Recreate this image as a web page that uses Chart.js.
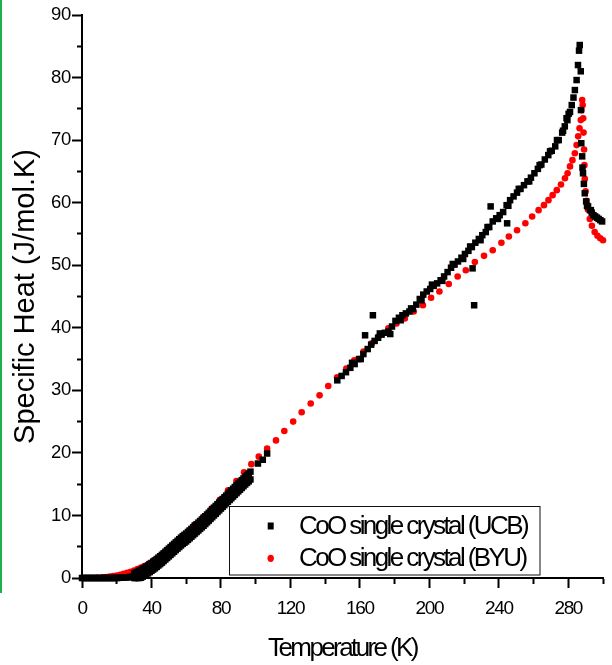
<!DOCTYPE html>
<html>
<head>
<meta charset="utf-8">
<script src="https://cdn.jsdelivr.net/npm/chart.js@4/dist/chart.umd.min.js"></script>
<style>
html,body{margin:0;padding:0;background:#fff;}
#wrap{position:relative;width:612px;height:665px;overflow:hidden;}
#c{position:absolute;left:0;top:0;}
#green{position:absolute;left:0;top:0;width:2px;height:593px;background:#1fb04b;}
</style>
</head>
<body>
<div id="wrap"><canvas id="c" width="612" height="665"></canvas><div id="green"></div></div>
<script>
// ---------- data ----------
const seriesNames = ['CoO single crystal (UCB)', 'CoO single crystal (BYU)'];
const xTitle = 'Temperature (K)';
const yTitle = 'Specific Heat (J/mol.K)';
const xTickLabels = ['0', '40', '80', '120', '160', '200', '240', '280'];
const yTickLabels = ['0', '10', '20', '30', '40', '50', '60', '70', '80', '90'];

// UCB (black squares) - flat low-temperature part
const ucbLowT = [0, 1, 2, 3, 4, 5, 6, 7, 8, 9, 10, 11, 12, 13, 14, 15, 16, 17, 18, 19, 20,
  21, 22, 23, 24, 25, 26, 27, 28, 29];
const ucbLowC = [0, 0, 0, 0, 0, 0, 0, 0, 0, 0, 0, 0, 0, 0, 0, 0, 0, 0, 0, 0, 0,
  0.02, 0.04, 0.05, 0.07, 0.09, 0.11, 0.14, 0.17, 0.2];
// UCB - thick band 30..97 K (upper and lower edge of the measured scatter)
const ucbBandT = [30, 31, 32, 33, 34, 35, 36, 37, 38, 39, 40, 41, 42, 43, 44, 45, 46, 47, 48, 49,
  50, 51, 52, 53, 54, 55, 56, 57, 58, 59, 60, 61, 62, 63, 64, 65, 66, 67, 68, 69, 70, 71, 72, 73,
  74, 75, 76, 77, 78, 79, 80, 81, 82, 83, 84, 85, 86, 87, 88, 89, 90, 91, 92, 93, 94, 95, 96, 97];
const ucbBandUpper = [0.75, 0.87, 1.0, 1.15, 1.3, 1.47, 1.65, 1.82, 2.0, 2.2, 2.4, 2.6, 2.8, 3.02,
  3.25, 3.47, 3.7, 3.95, 4.2, 4.45, 4.7, 4.95, 5.2, 5.45, 5.7, 5.95, 6.2, 6.45, 6.7, 6.9, 7.1, 7.35,
  7.6, 7.85, 8.1, 8.35, 8.6, 8.85, 9.1, 9.35, 9.6, 9.87, 10.15, 10.42, 10.7, 10.97, 11.25, 11.52,
  11.8, 12.07, 12.35, 12.62, 12.9, 13.17, 13.45, 13.72, 14.0, 14.27, 14.55, 14.82, 15.1, 15.37,
  15.65, 15.92, 16.2, 16.45, 16.7, 17.0];
const ucbBandLower = [0, 0, 0, 0, 0.05, 0.22, 0.4, 0.57, 0.75, 0.95, 1.15, 1.35, 1.55, 1.77,
  2.0, 2.22, 2.45, 2.7, 2.95, 3.2, 3.45, 3.7, 3.95, 4.2, 4.45, 4.7, 4.95, 5.2, 5.45, 5.65, 5.85, 6.1,
  6.35, 6.6, 6.85, 7.1, 7.35, 7.6, 7.85, 8.1, 8.35, 8.62, 8.9, 9.17, 9.45, 9.72, 10.0, 10.27,
  10.55, 10.82, 11.1, 11.37, 11.65, 11.92, 12.2, 12.47, 12.75, 13.02, 13.3, 13.57, 13.85, 14.12,
  14.4, 14.67, 14.95, 15.2, 15.45, 15.75];
// UCB - main line above 97 K
const ucbHighT = [101.3, 104.1, 106.6, 147, 149.5, 152, 154.5, 157, 159.5, 162, 164.5,
  166.5, 168.5, 170.5, 172.5, 174.5, 176.5, 178.5, 180.5, 182.5, 184.5, 186.5, 188.5, 190.5,
  192.5, 194.5, 196.5, 198.5, 200.5, 202.5, 204.5, 206.5, 208.5, 210.5, 212.5, 214.5, 216.5,
  218.5, 220.5, 222.5, 224.5, 226.5, 228.5, 230.5, 232.5, 234.5, 236.5, 238.5, 240.5, 242.5,
  244.5, 246.5, 248.5, 250.5, 252.5, 254.5, 256.5, 258.5, 260.5, 262.5, 264.5, 266.5, 268.5,
  270.5, 272.5, 274.5, 276.5, 278, 279.5, 281, 282, 283, 283.8, 284.8, 285.6, 286.2, 286.6,
  287.2, 287.3, 287.5, 288.0, 288.5, 289.0, 289.5, 290.3, 291.4, 292.5, 293.5, 294.5, 295.5,
  296.5, 297.5, 298.5, 299.5];
const ucbHighC = [18.3, 18.9, 19.9, 31.6, 32.3, 32.9, 33.6, 34.2, 35.0, 35.8, 36.6,
  37.3, 37.9, 38.4, 38.9, 39.2, 39.4, 40.2, 41.1, 41.6, 42.0, 42.3, 42.6, 43.0,
  43.7, 44.6, 45.3, 45.8, 46.2, 46.7, 47.1, 47.6, 48.2, 48.9, 49.6, 50.1, 50.6,
  51.2, 51.8, 52.3, 52.9, 53.6, 54.2, 54.8, 55.3, 56.1, 57.0, 57.5, 58.0, 58.5,
  59.6, 60.4, 61.0, 61.6, 62.2, 62.8, 63.4, 64.0, 64.7, 65.4, 66.1, 66.9, 67.6,
  68.3, 69.0, 70.0, 71.2, 72.2, 73.2, 74.5, 75.6, 76.8, 78.0, 79.6, 82.0, 84.3, 85.2,
  81.0, 74.8, 69.5, 67.4, 64.7, 63.0, 61.5, 60.2, 59.4, 58.8, 58.4, 58.0, 57.8,
  57.6, 57.4, 57.2, 57.0];
// UCB - scatter around the main line
const ucbScatterT = [155.5, 160.5, 171.5, 177.5, 183.5, 189.5, 195.5, 201.5, 207.5, 213.5, 219.5,
  223.5, 229.5, 233.5, 239.5, 245.5, 251.5, 257.5, 263.5, 269.5, 273.5, 277, 280.2, 288.2, 290.8, 293];
const ucbScatterC = [34.4, 35.0, 39.1, 39.0, 41.2, 43.1, 44.4, 46.9, 47.5, 50.2, 51.0,
  53.0, 54.0, 56.1, 57.4, 59.5, 62.2, 63.4, 66.0, 68.2, 70.0, 71.5, 74.2, 65.6, 59.5, 58.8];
// UCB - isolated outliers
const ucbOutT = [163, 167.5, 224.9, 225.8, 235.3, 244.8, 279];
const ucbOutC = [38.8, 42.0, 49.5, 43.6, 59.4, 56.7, 73.5];

// BYU (red circles)
const byuT = [0.5, 8.7, 12, 14, 16, 18, 20, 22, 24, 26, 28, 30, 32, 34, 36, 38.5, 41, 43.5, 46,
  48.5, 51, 53.5, 56, 58.5, 61.3, 64.7, 69.9, 74.6, 79.4, 84.1, 88.9, 93.3, 97.5, 101.8, 106.6,
  111.7, 116.5, 121.6, 126.5, 131.7, 136.8, 141.8, 146.9, 152.2, 156.8, 162.1, 166.9, 170.7,
  176.4, 181.1, 185.9, 191, 196.3, 201, 205.8, 211.2, 216.3, 221, 226.2, 231.5, 236.5, 241.5,
  245.8, 250.5, 255.3, 259.2, 262.9, 266, 268.6, 271, 273.4, 275.8, 278.1, 279.6, 281, 282.4,
  283.8, 284.8, 285.7, 286.5, 287.2, 287.6, 288.0, 288.3, 288.6, 288.8, 289.1, 289.3, 289.5,
  290.0, 290.5, 291.3, 292.4, 293.6, 295.2, 296.8, 298.4, 300];
const byuC = [0.0, 0.05, 0.1, 0.15, 0.22, 0.3, 0.4, 0.52, 0.66, 0.82, 1.0, 1.2, 1.42, 1.66, 1.92,
  2.3, 2.75, 3.2, 3.7, 4.2, 4.8, 5.4, 6.0, 6.6, 7.5, 8.5, 9.8, 11.1, 12.5, 14.0, 15.5, 16.9,
  18.2, 19.4, 20.7, 22.0, 23.5, 25.0, 26.5, 27.9, 29.2, 30.7, 32.1, 33.5, 34.8, 36.2, 37.5,
  38.6, 39.9, 40.7, 41.5, 42.6, 43.6, 44.8, 45.8, 47.0, 48.2, 49.2, 50.5, 51.5, 52.4, 53.6,
  54.6, 55.6, 56.7, 57.8, 58.8, 59.6, 60.4, 61.2, 62.0, 62.9, 63.9, 64.7, 65.8, 66.8,
  67.9, 69.2, 70.6, 71.9, 73.2, 74.8, 76.4, 75.6, 73.5, 71.2, 68.5, 66.0, 63.8,
  61.8, 60.3, 58.9, 57.4, 56.3, 55.3, 54.7, 54.3, 54.0];

// ---------- build Chart.js data ----------
const pts = (xs, ys) => xs.map((x, i) => ({x: x, y: ys[i]}));
const ucbData = [].concat(
  pts(ucbLowT, ucbLowC),
  pts(ucbBandT, ucbBandUpper),
  pts(ucbBandT, ucbBandLower),
  pts(ucbHighT, ucbHighC),
  pts(ucbScatterT, ucbScatterC),
  pts(ucbOutT, ucbOutC)
);
const byuData = pts(byuT, byuC);

const FONT = "'Liberation Sans', Arial, sans-serif";

// letter spacing (condensed look of the original export)
const spacing = {x: {labels: '-1.4px', title: '-2.6px'}, y: {labels: '-0.3px', title: '0px'}};
const spacingPlugin = {
  id: 'spacing',
  beforeDraw(chart) {
    Object.keys(spacing).forEach(id => {
      const s = chart.scales[id];
      if (!s || s.__wrapped) return;
      const dl = s.drawLabels, dt = s.drawTitle;
      s.drawLabels = function (a) { const c = this.ctx; c.save(); c.letterSpacing = spacing[id].labels; dl.call(this, a); c.restore(); };
      s.drawTitle = function (a) { const c = this.ctx; c.save(); c.letterSpacing = spacing[id].title; dt.call(this, a); c.restore(); };
      s.__wrapped = true;
    });
  }
};

// legend drawn inside the plot area, as in the reference
const innerLegend = {
  id: 'innerLegend',
  afterDatasetsDraw(chart) {
    const c = chart.ctx;
    c.save();
    c.fillStyle = '#fff';
    c.fillRect(229.5, 506.5, 310.5, 68.5);
    c.strokeStyle = '#111';
    c.lineWidth = 1;
    c.strokeRect(229.5, 506.5, 310.5, 68.5);
    // markers
    c.fillStyle = '#000';
    c.fillRect(267.7, 522.5, 6, 7);
    c.fillStyle = '#ff0000';
    c.beginPath();
    c.ellipse(270.7, 558.3, 3.2, 3.6, 0, 0, Math.PI * 2);
    c.fill();
    // texts
    c.fillStyle = '#000';
    c.font = '26px ' + FONT;
    c.letterSpacing = '-2.6px';
    c.textAlign = 'left';
    c.textBaseline = 'middle';
    c.fillText(seriesNames[0], 299, 526.5);
    c.fillText(seriesNames[1], 299, 559);
    c.restore();
  }
};

const isLabeled = (v, labels) => labels.indexOf(String(v)) >= 0;

new Chart(document.getElementById('c'), {
  type: 'scatter',
  data: {
    datasets: [
      {
        label: seriesNames[0],
        data: ucbData,
        pointStyle: 'rect',
        pointRadius: 4.6,
        pointHoverRadius: 4.6,
        backgroundColor: '#000',
        borderWidth: 0,
        showLine: false,
        clip: false,
        order: 0
      },
      {
        label: seriesNames[1],
        data: byuData,
        pointStyle: 'circle',
        pointRadius: 3.3,
        pointHoverRadius: 3.3,
        backgroundColor: '#ff0000',
        borderWidth: 0,
        showLine: false,
        clip: false,
        order: 1
      }
    ]
  },
  options: {
    responsive: false,
    animation: false,
    devicePixelRatio: 1,
    events: [],
    layout: {padding: {left: 0, top: 15, right: 3, bottom: 0}},
    plugins: {legend: {display: false}, tooltip: {enabled: false}},
    scales: {
      x: {
        type: 'linear',
        position: 'bottom',
        min: 0, max: 300,
        afterFit: s => { s.height = 87; },
        afterBuildTicks: s => { const t = []; for (let v = 0; v <= 300; v += 20) t.push({value: v}); s.ticks = t; },
        border: {display: true, color: '#000', width: 2},
        grid: {
          display: true, drawOnChartArea: false, drawTicks: true,
          tickLength: 10, tickWidth: 2, tickColor: '#000',
          tickBorderDash: ctx => (ctx.tick && isLabeled(ctx.tick.value, xTickLabels)) ? [] : [5, 100]
        },
        ticks: {
          autoSkip: false, maxRotation: 0, padding: 9, color: '#000',
          font: {family: FONT, size: 19},
          callback: v => isLabeled(v, xTickLabels) ? String(v) : ''
        },
        title: {display: true, text: xTitle, color: '#000', font: {family: FONT, size: 26}, padding: {top: 0, bottom: 1}}
      },
      y: {
        type: 'linear',
        position: 'left',
        min: 0, max: 90,
        afterFit: s => { s.width = 82; },
        afterBuildTicks: s => { const t = []; for (let v = 0; v <= 90; v += 5) t.push({value: v}); s.ticks = t; },
        border: {display: true, color: '#000', width: 2},
        grid: {
          display: true, drawOnChartArea: false, drawTicks: true,
          tickLength: 10, tickWidth: 2, tickColor: '#000',
          tickBorderDash: ctx => (ctx.tick && isLabeled(ctx.tick.value, yTickLabels)) ? [] : [0, 5, 5, 100]
        },
        ticks: {
          autoSkip: false, padding: 1, color: '#000',
          font: {family: FONT, size: 18.5},
          callback: v => isLabeled(v, yTickLabels) ? String(v) : ''
        },
        title: {display: true, text: yTitle, color: '#000', font: {family: FONT, size: 29}, padding: {top: 9, bottom: 0}}
      }
    }
  },
  plugins: [spacingPlugin, innerLegend]
});
</script>
</body>
</html>
